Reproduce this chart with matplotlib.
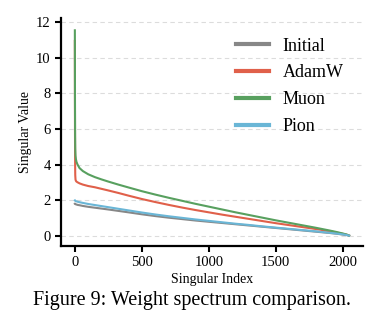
import numpy as np
import matplotlib.pyplot as plt

# singular value spectra
idx = [0, 1, 2, 3, 5, 8, 12, 20, 35, 60, 100, 150, 200, 250, 325, 400, 500, 600, 700, 800,
       900, 1000, 1100, 1200, 1300, 1400, 1500, 1600, 1700, 1800, 1900, 1950, 2000, 2030, 2047]

initial = [1.79, 1.78, 1.78, 1.77, 1.77, 1.76, 1.75, 1.73, 1.71, 1.67, 1.62, 1.57, 1.52, 1.47,
           1.39, 1.31, 1.2, 1.1, 1.01, 0.93, 0.85, 0.78, 0.71, 0.64, 0.57, 0.5, 0.43,
           0.36, 0.29, 0.22, 0.15, 0.11, 0.06, 0.03, 0.0]
adamw = [10.95, 6.0, 4.0, 3.4, 3.15, 3.08, 3.04, 3.0, 2.94, 2.87, 2.79, 2.72, 2.63, 2.54,
         2.4, 2.25, 2.06, 1.89, 1.73, 1.58, 1.44, 1.31, 1.18, 1.06, 0.94, 0.82, 0.7,
         0.59, 0.48, 0.37, 0.25, 0.18, 0.1, 0.05, 0.0]
muon = [11.55, 7.5, 5.6, 4.9, 4.5, 4.3, 4.15, 4.0, 3.8, 3.63, 3.45, 3.29, 3.16, 3.04,
        2.87, 2.71, 2.5, 2.31, 2.13, 1.96, 1.79, 1.63, 1.47, 1.31, 1.16, 1.01, 0.86,
        0.72, 0.58, 0.44, 0.29, 0.21, 0.12, 0.06, 0.0]
pion = [1.98, 1.97, 1.96, 1.96, 1.95, 1.94, 1.93, 1.91, 1.88, 1.84, 1.78, 1.72, 1.66, 1.6,
        1.51, 1.42, 1.3, 1.19, 1.09, 1.0, 0.91, 0.83, 0.75, 0.67, 0.6, 0.52, 0.45,
        0.38, 0.31, 0.24, 0.16, 0.12, 0.07, 0.03, 0.0]

series = [("Initial", initial, "#878787"),
          ("AdamW", adamw, "#e0604a"),
          ("Muon", muon, "#58a05f"),
          ("Pion", pion, "#6ab6d6")]

plt.rcParams['font.family'] = ['Liberation Serif', 'DejaVu Serif']

fig = plt.figure(figsize=(3.84, 3.31), dpi=100)
ax = fig.add_axes([0.159, 0.257, 0.786, 0.689])

for name, vals, col in series:
    ax.plot(idx, vals, color=col, lw=1.5, label=name)

ax.set_xticks([0, 500, 1000, 1500, 2000])
ax.set_yticks([0, 2, 4, 6, 8, 10, 12])
ax.set_xlim(-103, 2150)
ax.set_ylim(-0.58, 12.25)
ax.tick_params(labelsize=10.5, width=1.5, length=4, pad=3.5)
ax.set_xlabel("Singular Index", fontsize=10, labelpad=2.5)
ax.set_ylabel("Singular Value", fontsize=10, labelpad=3)

for s in ["top", "right"]:
    ax.spines[s].set_visible(False)
for s in ["left", "bottom"]:
    ax.spines[s].set_linewidth(1.6)

ax.grid(axis='y', ls=(0, (4, 3)), color='#dcdcdc', lw=0.8)
ax.set_axisbelow(True)

leg = ax.legend(loc='upper right', frameon=False, fontsize=13, handlelength=1.85,
                handletextpad=0.75, labelspacing=0.55, bbox_to_anchor=(0.99, 0.985))
for h in leg.get_lines():
    h.set_linewidth(3)

fig.text(0.5, 0.092, "Figure 9: Weight spectrum comparison.", ha='center', va='center',
         fontsize=14.5)

fig.savefig("out.png", dpi=100)
